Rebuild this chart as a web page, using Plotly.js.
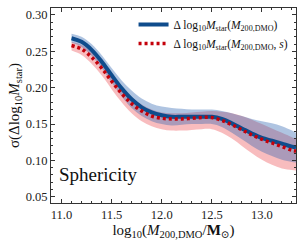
<!DOCTYPE html>
<html><head><meta charset="utf-8">
<script src="https://cdn.plot.ly/plotly-3.0.1.min.js"></script>
<style>html,body{margin:0;padding:0;background:#fff}#c{width:305px;height:243px}</style>
</head><body><div id="c"></div>
<script>
const mass = [11.1,11.2,11.3,11.4,11.5,11.6,11.7,11.8,11.9,12.0,12.1,12.2,12.3,12.4,12.5,12.6,12.7,12.8,12.9,13.0,13.1,13.2,13.3,13.34];
const blueMid = [0.268,0.263,0.252,0.236,0.217,0.199,0.184,0.173,0.166,0.162,0.160,0.160,0.160,0.160,0.160,0.157,0.151,0.144,0.137,0.131,0.127,0.123,0.119,0.118];
const blueHi  = [0.274,0.270,0.260,0.245,0.227,0.210,0.196,0.185,0.178,0.174,0.172,0.171,0.170,0.170,0.170,0.168,0.165,0.161,0.157,0.154,0.151,0.147,0.141,0.138];
const blueLo  = [0.262,0.256,0.244,0.227,0.207,0.188,0.172,0.161,0.154,0.150,0.148,0.149,0.150,0.150,0.150,0.146,0.138,0.129,0.120,0.112,0.106,0.101,0.098,0.097];
const redMid  = [0.258,0.253,0.242,0.227,0.209,0.192,0.178,0.168,0.161,0.158,0.157,0.157,0.158,0.159,0.159,0.155,0.149,0.142,0.135,0.129,0.124,0.119,0.114,0.113];
const redHi   = [0.263,0.259,0.249,0.235,0.218,0.201,0.187,0.177,0.170,0.166,0.165,0.165,0.166,0.167,0.168,0.167,0.165,0.161,0.156,0.150,0.144,0.138,0.132,0.130];
const redLo   = [0.251,0.245,0.233,0.217,0.198,0.180,0.165,0.154,0.147,0.143,0.141,0.141,0.142,0.143,0.143,0.138,0.130,0.120,0.110,0.101,0.094,0.089,0.087,0.086];
const legendBlue = "Δ log<sub>10</sub><i>M</i><sub>star</sub>(<i>M</i><sub>200,DMO</sub>)";
const legendRed = "Δ log<sub>10</sub><i>M</i><sub>star</sub>(<i>M</i><sub>200,DMO</sub>, <i>s</i>)";
const xTitle = "log<sub>10</sub>(<i>M</i><sub>200,DMO</sub>/<b>M</b><sub>⊙</sub>)";
const yTitle = "σ(Δlog<sub>10</sub><i>M</i><sub>star</sub>)";
const label = "Sphericity";

const font = "Liberation Serif, DejaVu Serif, serif";
const traces = [
  {x: mass, y: redHi, mode:'lines', line:{width:0, shape:'spline'}, showlegend:false, hoverinfo:'skip'},
  {x: mass, y: redLo, mode:'lines', line:{width:0, shape:'spline'}, fill:'tonexty', fillcolor:'rgba(238,95,100,0.42)', showlegend:false, hoverinfo:'skip'},
  {x: mass, y: blueHi, mode:'lines', line:{width:0, shape:'spline'}, showlegend:false, hoverinfo:'skip'},
  {x: mass, y: blueLo, mode:'lines', line:{width:0, shape:'spline'}, fill:'tonexty', fillcolor:'rgba(45,100,175,0.38)', showlegend:false, hoverinfo:'skip'},
  {x: mass, y: blueMid, mode:'lines', name: legendBlue, line:{color:'#0f4c8c', width:4, shape:'spline'}},
  {x: mass, y: redMid, mode:'lines', name: legendRed, line:{color:'#c4000a', width:3.5, dash:'3px,3px', shape:'spline'}}
];
const axisCommon = {showline:true, mirror:'ticks', linecolor:'#333', linewidth:1, ticks:'inside', ticklen:4, tickcolor:'#333', showgrid:false, zeroline:false,
  tickfont:{family:font, size:12.5, color:'#222'}};
const layout = {
  width:305, height:243, margin:{l:51,r:9,t:8,b:40},
  paper_bgcolor:'#fff', plot_bgcolor:'#fff',
  xaxis: Object.assign({}, axisCommon, {range:[10.895,13.34], tickvals:[11.0,11.5,12.0,12.5,13.0], ticktext:['11.0','11.5','12.0','12.5','13.0'],
    minor:{dtick:0.1, ticks:'inside', ticklen:2, tickcolor:'#333'},
    title:{text:xTitle, font:{family:font, size:15, color:'#111'}, standoff:1}}),
  yaxis: Object.assign({}, axisCommon, {range:[0.0415,0.3095], tickvals:[0.05,0.10,0.15,0.20,0.25,0.30], ticktext:['0.05','0.10','0.15','0.20','0.25','0.30'],
    minor:{dtick:0.01, ticks:'inside', ticklen:2, tickcolor:'#333'},
    title:{text:yTitle, font:{family:font, size:15, color:'#111'}, standoff:2}}),
  legend:{x:0.99, y:0.99, xanchor:'right', yanchor:'top', traceorder:'normal', bgcolor:'rgba(0,0,0,0)', font:{family:font, size:11.5, color:'#111'}, itemwidth:30, tracegroupgap:0},
  annotations:[{text:label, xref:'paper', yref:'paper', x:0.025, y:0.08, xanchor:'left', yanchor:'bottom', showarrow:false, font:{family:font, size:19, color:'#111'}}]
};
Plotly.newPlot('c', traces, layout, {staticPlot:true, displayModeBar:false});
</script></body></html>
